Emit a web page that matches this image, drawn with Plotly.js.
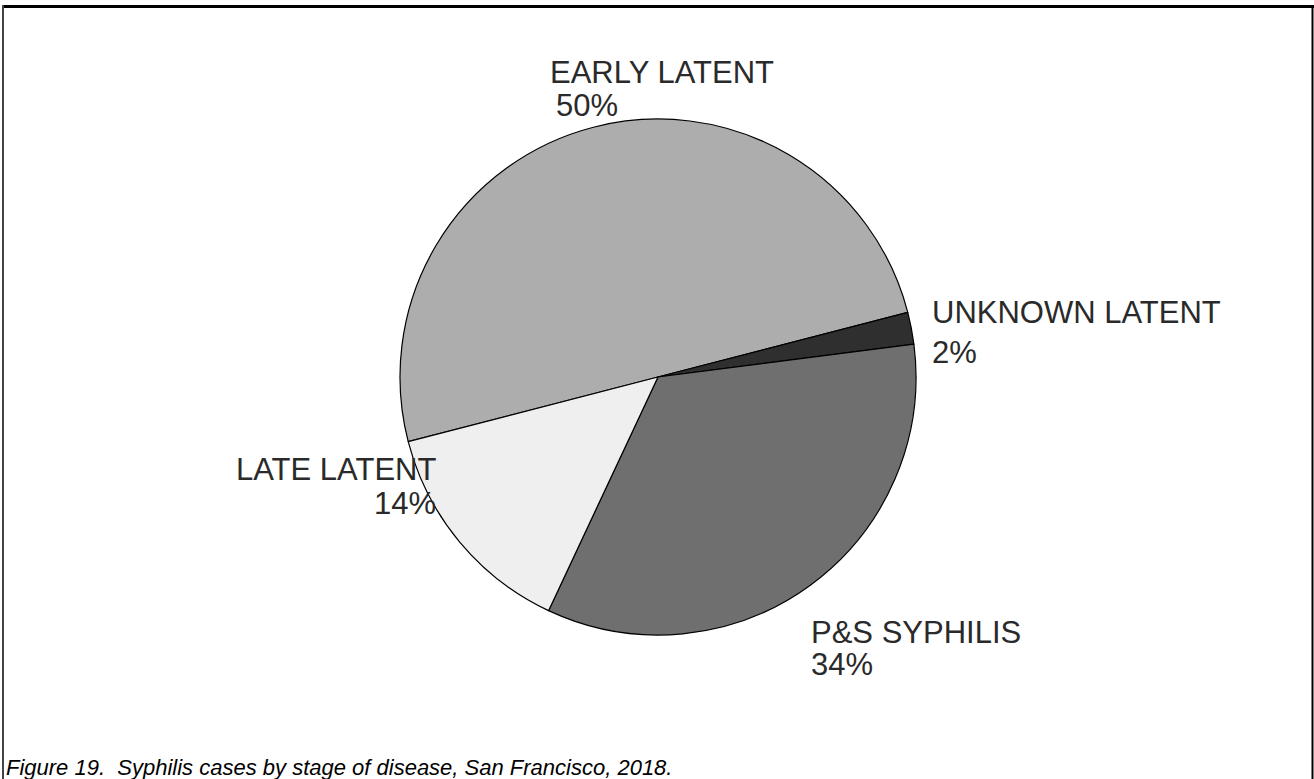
<!DOCTYPE html>
<html>
<head>
<meta charset="utf-8">
<script src="https://cdn.plot.ly/plotly-3.0.1.min.js"></script>
<style>html,body{margin:0;padding:0;background:#fff;}#chart{width:1314px;height:779px;}</style>
</head>
<body>
<div id="chart"></div>
<script>
const categories = ["EARLY LATENT", "UNKNOWN LATENT", "P&S SYPHILIS", "LATE LATENT"];
const percents = [50, 2, 34, 14];
const sliceColors = ["#adadad", "#2f2f2f", "#6f6f6f", "#efefef"];
const captionText = "Figure 19.  Syphilis cases by stage of disease, San Francisco, 2018.";

const W = 1314, H = 779;
const cx = 658, cy = 377, R = 258;
const px = x => x / W;
const py = y => 1 - y / H;

const trace = {
  type: "pie",
  labels: categories,
  values: percents,
  sort: false,
  direction: "clockwise",
  rotation: 255.5,
  textinfo: "none",
  hoverinfo: "label+percent",
  marker: { colors: sliceColors, line: { color: "#000", width: 1.2 } },
  domain: { x: [px(cx - R), px(cx + R)], y: [py(cy + R), py(cy - R)] },
  showlegend: false
};

const labelFont = { family: "Liberation Sans, Arial, sans-serif", size: 31, color: "#2a2a2a" };
// label placement: [name x, name y, name anchor, pct x, pct y, pct anchor]
const labelPos = [
  [548, 73, "left", 554, 106, "left"],
  [930, 312, "left", 930, 352, "left"],
  [809, 632, "left", 809, 664, "left"],
  [438, 469, "right", 438, 503, "right"]
];
const annotations = [];
categories.forEach((c, i) => {
  const p = labelPos[i];
  annotations.push({ xref: "paper", yref: "paper", x: px(p[0]), y: py(p[1]), xanchor: p[2], yanchor: "middle",
    text: c, showarrow: false, font: labelFont });
  annotations.push({ xref: "paper", yref: "paper", x: px(p[3]), y: py(p[4]), xanchor: p[5], yanchor: "middle",
    text: percents[i] + "%", showarrow: false, font: labelFont });
});
annotations.push({ xref: "paper", yref: "paper", x: px(4), y: py(767), xanchor: "left", yanchor: "middle",
  text: "<i>" + captionText + "</i>", showarrow: false,
  font: { family: "Liberation Sans, Arial, sans-serif", size: 22, color: "#000" } });

const shapes = [
  { type: "line", xref: "paper", yref: "paper", x0: px(2), x1: px(1314), y0: py(6.5), y1: py(6.5), line: { color: "#000", width: 3 } },
  { type: "line", xref: "paper", yref: "paper", x0: px(3), x1: px(3), y0: py(5), y1: py(779), line: { color: "#444", width: 2 } },
  { type: "line", xref: "paper", yref: "paper", x0: px(1312.5), x1: px(1312.5), y0: py(5), y1: py(779), line: { color: "#000", width: 2 } }
];

const layout = {
  width: W, height: H,
  margin: { l: 0, r: 0, t: 0, b: 0 },
  paper_bgcolor: "#fff",
  plot_bgcolor: "#fff",
  annotations: annotations,
  shapes: shapes
};

Plotly.newPlot("chart", [trace], layout, { displayModeBar: false, staticPlot: true });
</script>
</body>
</html>
